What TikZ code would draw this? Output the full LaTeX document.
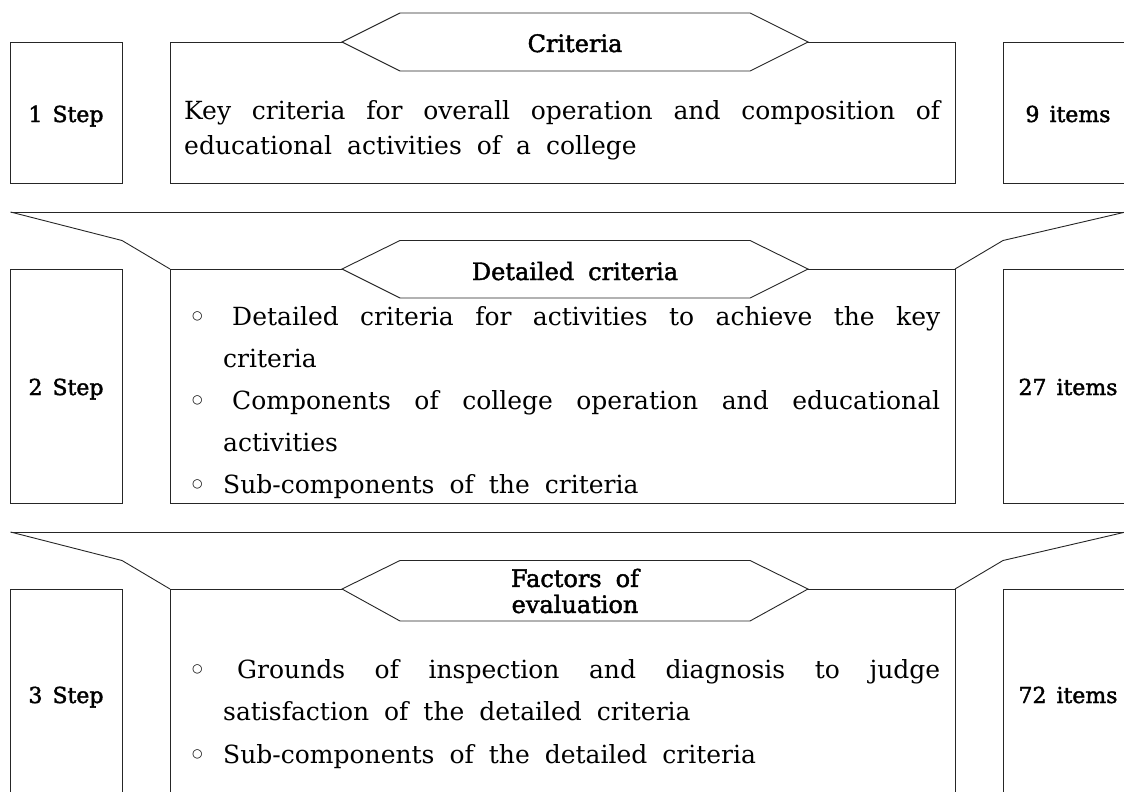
\documentclass[tikz,border=0pt]{standalone}
\usepackage{fontspec}
\setmainfont{DejaVu Serif}
\newfontfamily\lblfont[FakeBold=1.8]{DejaVu Serif}
\newfontfamily\symfont{DejaVu Sans}
\newcommand\steplbl{\lblfont\fontsize{22}{26}\selectfont\spaceskip=10pt\relax}
\newcommand\hexlbl{\lblfont\fontsize{24}{26}\selectfont\spaceskip=14pt\relax}
\newcommand\bodytxt[1]{\fontsize{25}{#1}\selectfont\spaceskip=15pt plus 40pt minus 3pt\relax\parindent=0pt\tolerance=10000\relax}
\newcommand\bul{\makebox[31pt][l]{\raisebox{6pt}{\symfont\fontsize{12}{12}\selectfont ○}}}
\tikzset{
  ln/.style={draw=black!85, line width=0.9pt},
  hexshape/.style={draw=black!85, line width=0.9pt, fill=white},
  steptext/.style={anchor=base, inner sep=0pt, font=\steplbl},
  hextext/.style={inner sep=0pt, font=\hexlbl, align=center},
  body/.style={anchor=base west, inner sep=0pt}
}
\begin{document}
\begin{tikzpicture}[x=1pt,y=-1pt]
\useasboundingbox (0,0) rectangle (1124,792);
\clip (0,0) rectangle (1124,792);

% ---------- Row 1 ----------
\draw[ln] (10.5,42) rectangle (122,183);
\draw[ln] (170,42) rectangle (955,183);
\draw[hexshape] (342,42) -- (400,13) -- (750,13) -- (808,42) -- (750,71) -- (400,71) -- cycle;
\draw[ln] (1003,42) rectangle (1140,183);
\node[steptext] (s1) at (66,122) {1 Step};
\node[steptext] (i1) at (1068,122) {9 items};
\node[hextext, anchor=base] (h1) at (575,52) {Criteria};
\node[body] (t1) at (184,119.5) {\parbox[t]{756pt}{\bodytxt{35}Key criteria for overall operation and composition of\linebreak educational activities of a college\par}};

% ---------- Funnel 1 ----------
\draw[ln] (10.5,212) -- (1130,212);
\draw[ln] (10.5,212) -- (122,240.5) -- (170,269);
\draw[ln] (1130,211) -- (1003,240.5) -- (955,269);

% ---------- Row 2 ----------
\draw[ln] (10.5,269) rectangle (122,503);
\draw[ln] (170,269) rectangle (955,503);
\draw[hexshape] (342,269) -- (400,240.5) -- (750,240.5) -- (808,269) -- (750,298) -- (400,298) -- cycle;
\draw[ln] (1003,269) rectangle (1140,503);
\node[steptext] (s2) at (66,395) {2 Step};
\node[steptext] (i2) at (1068,395) {27 items};
\node[hextext, anchor=base] (h2) at (575,280) {Detailed criteria};
\node[body] (t2) at (192,325) {\parbox[t]{748pt}{\bodytxt{42}%
{\hangindent=31pt\hangafter=1\bul\hspace*{9pt}Detailed criteria for activities to achieve the key\linebreak criteria\par}%
{\hangindent=31pt\hangafter=1\bul\hspace*{9pt}Components of college operation and educational\linebreak activities\par}%
{\hangindent=31pt\hangafter=1\bul Sub-components of the criteria\par}}};

% ---------- Funnel 2 ----------
\draw[ln] (10.5,532) -- (1130,532);
\draw[ln] (10.5,532) -- (122,560.5) -- (170,589);
\draw[ln] (1130,531) -- (1003,560.5) -- (955,589);

% ---------- Row 3 ----------
\draw[ln] (10.5,589) rectangle (122,820);
\draw[ln] (170,589) rectangle (955,820);
\draw[hexshape] (342,589) -- (400,560.5) -- (750,560.5) -- (808,589) -- (750,621) -- (400,621) -- cycle;
\draw[ln] (1003,589) rectangle (1140,820);
\node[steptext] (s3) at (66,703) {3 Step};
\node[steptext] (i3) at (1068,703) {72 items};
\node[hextext] (h3) at (575,591) {Factors of\\evaluation};
\node[body] (t3) at (192,678) {\parbox[t]{748pt}{\bodytxt{42.5}%
{\hangindent=31pt\hangafter=1\bul\hspace*{14pt}Grounds of inspection and diagnosis to judge\linebreak satisfaction of the detailed criteria\par}%
{\hangindent=31pt\hangafter=1\bul Sub-components of the detailed criteria\par}}};
\end{tikzpicture}
\end{document}
